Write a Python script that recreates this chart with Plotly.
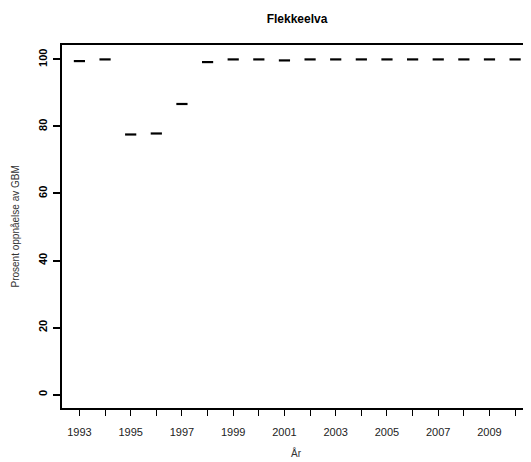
import plotly.graph_objects as go

TITLE = "Flekkeelva"

years = list(range(1993, 2011))
prosent = [99.5, 100.0, 77.6, 77.9, 86.7, 99.2, 100.0, 100.0, 99.7, 100.0,
           100.0, 100.0, 100.0, 100.0, 100.0, 100.0, 100.0, 100.0]

x_labels = [str(y) if (y - 1993) % 2 == 0 else "" for y in years]
y_ticks = [0, 20, 40, 60, 80, 100]

FONT = "Liberation Sans, Arial, sans-serif"

# page body has an 8px margin, so the figure is 8px smaller each way
W, H = 523, 454

fig = go.Figure()

fig.add_trace(go.Scatter(
    x=years, y=prosent, mode="markers",
    marker=dict(symbol="line-ew", size=8, line=dict(width=2.2, color="black")),
    showlegend=False, hoverinfo="x+y",
))

fig.update_layout(
    width=W, height=H,
    margin=dict(l=54, r=0, t=37, b=54),
    paper_bgcolor="white", plot_bgcolor="white",
    font=dict(family=FONT, color="black", size=11),
    title=dict(text="<b>%s</b>" % TITLE, x=289 / W, xanchor="center",
               y=1 - 11 / H, yanchor="middle", font=dict(size=12)),
    xaxis=dict(
        range=[1992.32, 2010.62], showgrid=False, zeroline=False,
        showline=True, linecolor="black", linewidth=2, mirror=True,
        tickmode="array", tickvals=years, ticktext=x_labels,
        ticks="outside", ticklen=6, tickwidth=1, tickcolor="black",
        ticklabelstandoff=7, tickfont=dict(size=11, color="#222"),
    ),
    yaxis=dict(
        range=[-4, 104.3], showgrid=False, zeroline=False,
        showline=True, linecolor="black", linewidth=2,
        tickmode="array", tickvals=y_ticks, ticktext=[str(v) for v in y_ticks],
        ticks="outside", ticklen=7, tickwidth=2, tickcolor="black",
        tickangle=-90, ticklabelstandoff=2,
        tickfont=dict(size=11, color="black", weight="bold"),
    ),
    annotations=[
        dict(text="Prosent oppnåelse av GBM", xref="paper", yref="paper",
             x=-47 / 469, y=0.5, textangle=-90, showarrow=False,
             xanchor="center", yanchor="middle", font=dict(size=10, color="#333")),
        dict(text="År", xref="paper", yref="paper",
             x=0.5, y=-(453 - 408) / 363, showarrow=False,
             xanchor="center", yanchor="middle", font=dict(size=10, color="#333")),
    ],
)

fig.write_html("out.html")
